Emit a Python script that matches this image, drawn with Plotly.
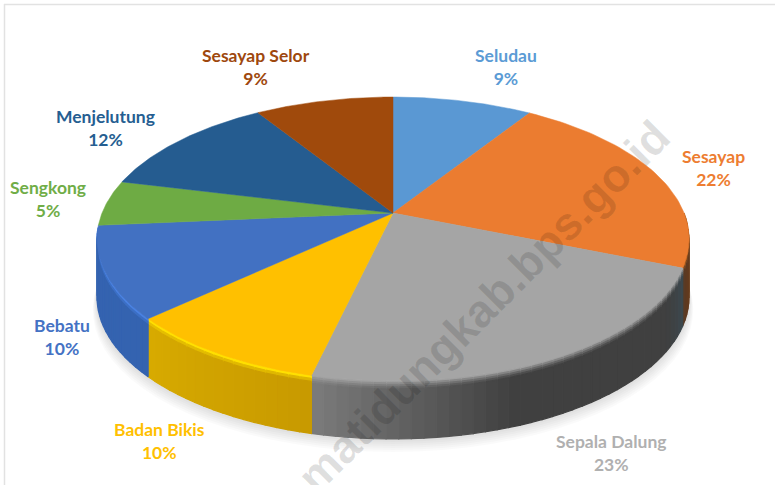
import numpy as np
import plotly.graph_objects as go

# --- data (clockwise from 12 o'clock)
categories = ["Seludau", "Sesayap", "Sepala Dalung", "Badan Bikis",
              "Bebatu", "Sengkong", "Menjelutung", "Sesayap Selor"]
percent = [9.1, 22.0, 22.6, 9.5, 10.4, 5.2, 12.2, 9.0]

# --- styles
top_colors = ["#5a98d3", "#eb7c30", "#a5a5a5", "#ffc000",
              "#4271c2", "#6eab44", "#255c90", "#a04a0c"]
label_colors = ["#5b9bd5", "#ed7d31", "#b0b0b0", "#ffc000",
                "#4472c4", "#70ad47", "#255e91", "#9e480e"]
rim_colors = ["#5b9bd5", "#b0601f", "#a0a0a0", "#ffe000",
              "#4a82e2", "#70ad47", "#255e91", "#9e480e"]
label_pos = [(506, 67), (713, 168), (611, 453), (159, 441),
             (62, 337), (48, 199), (105, 128), (256, 67)]

# --- projection of the tilted disc
CX, CY, RX, RY, K, DEPTH = 393, 213, 291, 137.2, 0.183, 58


def project(deg, drop=0.0):
    a = np.radians(deg)
    u, v = np.sin(a), np.cos(a)
    w = 1 + K * v
    return CX + RX * u / w, CY - RY * v / w + drop


def hex2rgb(h):
    return np.array([int(h[i:i + 2], 16) for i in (1, 3, 5)], float)


def mix(c1, c2, t):
    r = hex2rgb(c1) * (1 - t) + hex2rgb(c2) * t
    return "#%02x%02x%02x" % tuple(int(v) for v in r)


def side_colour(i, deg, a0, a1):
    t = (deg - a0) / max(a1 - a0, 1e-6)
    if categories[i] == "Sepala Dalung":
        if deg > 160:
            return mix("#404040", "#7c7c7c", (deg - 160) / (a1 - 160))
        if deg < 122:
            return mix("#3c4a50", "#404040", (deg - a0) / (122 - a0))
        return "#404040"
    if categories[i] == "Badan Bikis":
        return mix("#c89a00", "#d8ab00", t)
    if categories[i] == "Bebatu":
        return "#3463b0"
    if categories[i] == "Sesayap":
        return mix("#7a3d12", "#5a3a24", t)
    return top_colors[i]


fig = go.Figure()


def poly(xs, ys, colour, width=1.2):
    fig.add_trace(go.Scatter(x=xs, y=ys, mode="lines", fill="toself",
                             fillcolor=colour,
                             line=dict(color=colour, width=width),
                             hoverinfo="skip", showlegend=False))


edges = np.concatenate([[0], np.cumsum(percent)]) * 360 / sum(percent)

# soft shadow below the disc
ring = np.arange(0, 361, 4)
for off in (3, 5, 7, 9, 11, 13):
    x, y = project(ring, DEPTH + off)
    x = CX + (x - CX) * (1 + off / 900)
    fig.add_trace(go.Scatter(x=x, y=y, mode="lines", fill="toself",
                             fillcolor="rgba(0,0,0,0.018)",
                             line=dict(width=0), hoverinfo="skip",
                             showlegend=False))

# side wall with bevel
for i in range(len(percent)):
    a0, a1 = max(edges[i], 90.0), min(edges[i + 1], 264.0)
    if a1 <= a0:
        continue
    n = max(int((a1 - a0) / 2), 1)
    angs = np.linspace(a0, a1, n + 1)
    soft = categories[i] == "Sepala Dalung"
    for b0, b1 in zip(angs[:-1], angs[1:]):
        mid = (b0 + b1) / 2
        side = side_colour(i, mid, a0, a1)
        if soft:
            layers = [(0, 2, rim_colors[i]),
                      (2, 4, mix(rim_colors[i], side, 0.3)),
                      (4, 6, mix(rim_colors[i], side, 0.6)),
                      (6, 8, mix(rim_colors[i], side, 0.85)),
                      (8, DEPTH, side)]
        else:
            layers = [(0, 3, rim_colors[i]),
                      (3, 6, mix(rim_colors[i], side, 0.6)),
                      (6, DEPTH, side)]
        for d0, d1, col in layers:
            xa, ya = project(b0, d0)
            xb, yb = project(b1, d0)
            xc, yc = project(b1, d1)
            xd, yd = project(b0, d1)
            poly([xa, xb, xc, xd, xa], [ya, yb, yc, yd, ya], col)

# top face
for i in range(len(percent)):
    angs = np.linspace(edges[i], edges[i + 1], 60)
    x, y = project(angs)
    poly(np.r_[CX, x, CX], np.r_[CY, y, CY], top_colors[i], 0.5)

# labels
for name, pct, col, (lx, ly) in zip(categories, percent, label_colors, label_pos):
    fig.add_annotation(x=lx, y=ly, text=f"<b>{name}<br>{round(pct)}%</b>",
                       showarrow=False, align="center",
                       font=dict(family="Lato", size=17.5, color=col))

# watermark
fig.add_annotation(x=483, y=307, text="<b>matidungkab.bps.go.id</b>",
                   textangle=-45, showarrow=False,
                   font=dict(family="Liberation Sans", size=46,
                             color="rgba(0,0,0,0.12)"))

fig.update_layout(
    width=775, height=485, autosize=False,
    margin=dict(l=0, r=0, t=0, b=0),
    paper_bgcolor="white", plot_bgcolor="white", showlegend=False,
    xaxis=dict(range=[0, 775], visible=False, fixedrange=True),
    yaxis=dict(range=[485, 0], visible=False, fixedrange=True),
    shapes=[
        dict(type="line", xref="x", yref="y", x0=4, x1=775, y0=4.5, y1=4.5,
             line=dict(color="#e2e2e2", width=1.5)),
        dict(type="line", xref="x", yref="y", x0=4.5, x1=4.5, y0=4, y1=485,
             line=dict(color="#e2e2e2", width=1.5)),
    ],
)
fig.write_html("out.html", config={"displayModeBar": False},
               post_script="document.body.style.margin='0';")
